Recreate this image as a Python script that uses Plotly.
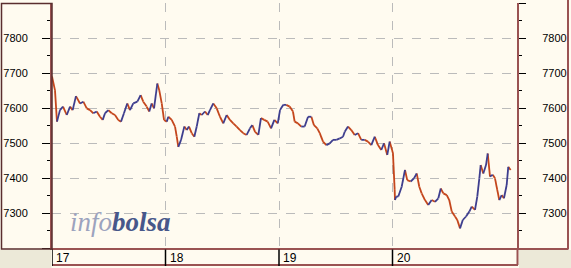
import plotly.graph_objects as go

# ---------------- data ----------------
t17 = [17.000, 17.026, 17.044, 17.070, 17.097, 17.130, 17.159, 17.182, 17.211, 17.247,
       17.276, 17.306, 17.335, 17.364, 17.394, 17.423, 17.447, 17.467, 17.496, 17.526,
       17.555, 17.584, 17.608, 17.634, 17.663, 17.687, 17.716, 17.752, 17.781, 17.804,
       17.834, 17.857, 17.878, 17.899, 17.928, 17.945, 17.967, 17.987, 18.011]
p17 = [7690, 7651, 7561, 7594, 7604, 7580, 7604, 7594, 7634, 7613,
       7618, 7599, 7594, 7585, 7590, 7575, 7566, 7585, 7594, 7585,
       7580, 7566, 7561, 7585, 7613, 7594, 7613, 7618, 7637, 7618,
       7604, 7590, 7613, 7599, 7670, 7651, 7613, 7566, 7561]

t18 = [18.025, 18.055, 18.084, 18.099, 18.113, 18.137, 18.166, 18.187, 18.207, 18.231,
       18.254, 18.275, 18.298, 18.319, 18.348, 18.372, 18.392, 18.421, 18.451, 18.480,
       18.509, 18.539, 18.568, 18.597, 18.627, 18.656, 18.685, 18.715, 18.744, 18.765,
       18.789, 18.818, 18.841, 18.870, 18.900, 18.930, 18.959, 18.989, 19.009, 19.038]
p18 = [7575, 7566, 7547, 7518, 7489, 7509, 7547, 7537, 7547, 7528,
       7518, 7547, 7585, 7580, 7590, 7580, 7594, 7613, 7599, 7575,
       7556, 7580, 7566, 7556, 7547, 7537, 7528, 7523, 7542, 7551,
       7532, 7523, 7571, 7566, 7561, 7542, 7566, 7556, 7594, 7609]

t19 = [19.064, 19.094, 19.123, 19.138, 19.167, 19.196, 19.226, 19.256, 19.285, 19.308,
       19.337, 19.359, 19.388, 19.417, 19.447, 19.476, 19.505, 19.535, 19.564, 19.579,
       19.608, 19.637, 19.667, 19.696, 19.725, 19.755, 19.784, 19.813, 19.844, 19.872,
       19.901, 19.925, 19.954, 19.975, 19.996, 20.004, 20.019]
p19 = [7609, 7604, 7590, 7561, 7556, 7547, 7547, 7575, 7575, 7551,
       7542, 7528, 7504, 7494, 7499, 7509, 7509, 7513, 7518, 7532,
       7547, 7537, 7523, 7528, 7509, 7509, 7504, 7494, 7518, 7494,
       7480, 7499, 7466, 7504, 7480, 7471, 7366]

t20 = [20.022, 20.033, 20.051, 20.081, 20.110, 20.130, 20.160, 20.189, 20.213, 20.236,
       20.257, 20.286, 20.315, 20.345, 20.374, 20.404, 20.425, 20.448, 20.478, 20.500,
       20.522, 20.551, 20.571, 20.595, 20.619, 20.648, 20.677, 20.698, 20.727, 20.747,
       20.765, 20.777, 20.800, 20.824, 20.839, 20.859, 20.883, 20.903, 20.923, 20.941,
       20.962, 20.982, 21.006, 21.020, 21.041]
p20 = [7337, 7347, 7347, 7375, 7423, 7394, 7390, 7399, 7413, 7375,
       7356, 7337, 7323, 7337, 7332, 7342, 7370, 7356, 7351, 7337,
       7304, 7290, 7280, 7256, 7280, 7290, 7304, 7318, 7309, 7347,
       7399, 7437, 7413, 7437, 7470, 7404, 7409, 7399, 7366, 7337,
       7351, 7342, 7380, 7432, 7423]

days = [17, 18, 19, 20]
day_labels = ["17", "18", "19", "20"]
y_ticks = [7200, 7300, 7400, 7500, 7600, 7700, 7800, 7900]
y_labels = ["", "7300", "7400", "7500", "7600", "7700", "7800", ""]
y_minor = [7250, 7350, 7450, 7550, 7650, 7750, 7850]

t = t17 + t18 + t19 + t20
p = p17 + p18 + p19 + p20

# ---------------- build up / down segments ----------------
up_x, up_y, dn_x, dn_y = [], [], [], []
for i in range(1, len(t)):
    if p[i] >= p[i - 1]:
        up_x += [t[i - 1], t[i], None]
        up_y += [p[i - 1], p[i], None]
    else:
        dn_x += [t[i - 1], t[i], None]
        dn_y += [p[i - 1], p[i], None]

BLUE = "#3E3E8E"
RED = "#C4461C"
CREAM = "#FFFBF0"
GRAY = "#ECE9D8"
BROWN = "#9A5252"
DARK = "#5A2E2E"

fig = go.Figure()
fig.add_trace(go.Scatter(x=dn_x, y=dn_y, mode="lines", line=dict(color=RED, width=1.8),
                         hoverinfo="skip"))
fig.add_trace(go.Scatter(x=up_x, y=up_y, mode="lines", line=dict(color=BLUE, width=1.8),
                         hoverinfo="skip"))
fig.add_trace(go.Scatter(x=[t[0]], y=[p[0]], yaxis="y2", mode="markers",
                         marker=dict(opacity=0), hoverinfo="skip"))

# plot area: pixels x 52..517, y 3..248
L, R, T, B = 52, 517, 3, 248
def px(X):
    return (X - L) / (R - L)
def py(Y):
    return (B - Y) / (B - T)

font = "Liberation Sans, Arial, sans-serif"

fig.update_layout(
    width=571, height=268,
    margin=dict(l=L, r=571 - R, t=T, b=268 - B, pad=0),
    paper_bgcolor=CREAM, plot_bgcolor=CREAM,
    showlegend=False,
    xaxis=dict(range=[17, 17 + (R - L) / 113.5], tickvals=days, showticklabels=False,
               ticks="", showgrid=True, gridcolor="#BBBBBB", griddash="dash", gridwidth=1,
               showline=True, linecolor=BROWN, linewidth=2, zeroline=False, fixedrange=True),
    yaxis=dict(range=[7200, 7900], tickvals=y_ticks, ticktext=y_labels,
               ticks="outside", ticklen=8, tickcolor="#000", tickwidth=1,
               showline=True, linecolor=BROWN, linewidth=2, zeroline=False,
               showgrid=True, gridcolor="#BBBBBB", griddash="dash", gridwidth=1,
               tickfont=dict(family=font, size=11, color="#000"), ticklabelstandoff=12,
               minor=dict(tickvals=y_minor, ticks="outside", ticklen=3, tickcolor="#000",
                          showgrid=False)),
    yaxis2=dict(range=[7200, 7900], overlaying="y", side="right", tickvals=y_ticks,
                ticktext=y_labels, ticks="outside", ticklen=7, tickcolor="#000", tickwidth=1,
                showline=True, linecolor=BROWN, linewidth=2, zeroline=False, showgrid=False,
                tickfont=dict(family=font, size=11, color="#000"), ticklabelstandoff=14,
                minor=dict(tickvals=y_minor, ticks="outside", ticklen=3, tickcolor="#000")),
)

shapes = []
# gray corners
shapes.append(dict(type="rect", xref="paper", yref="paper", x0=px(-2), x1=px(51.5),
                   y0=py(250), y1=py(270), fillcolor=GRAY, line=dict(width=0), layer="below"))
shapes.append(dict(type="rect", xref="paper", yref="paper", x0=px(519), x1=px(575),
                   y0=py(250), y1=py(270), fillcolor=GRAY, line=dict(width=0), layer="below"))
# left panel border
shapes.append(dict(type="rect", xref="paper", yref="paper", x0=px(1.5), x1=px(52),
                   y0=py(249), y1=py(3.5), line=dict(color=DARK, width=1.5), layer="above"))
# right panel border
shapes.append(dict(type="line", xref="paper", yref="paper", x0=px(568), x1=px(568),
                   y0=py(-2), y1=py(249.5), line=dict(color=BROWN, width=2), layer="above"))
shapes.append(dict(type="line", xref="paper", yref="paper", x0=px(517), x1=px(568),
                   y0=py(249), y1=py(249), line=dict(color=BROWN, width=2), layer="above"))
# x label strip border
shapes.append(dict(type="line", xref="paper", yref="paper", x0=px(52), x1=px(518),
                   y0=py(265), y1=py(265), line=dict(color=BROWN, width=2), layer="above"))
shapes.append(dict(type="line", xref="paper", yref="paper", x0=px(517.5), x1=px(517.5),
                   y0=py(249), y1=py(265), line=dict(color=BROWN, width=2), layer="above"))
# day separators in strip
for d in days:
    shapes.append(dict(type="line", xref="x", yref="paper", x0=d, x1=d,
                       y0=py(249.5), y1=py(266), line=dict(color="#000", width=1.5),
                       layer="above"))
fig.update_layout(shapes=shapes)

annotations = []
for d, lab in zip(days, day_labels):
    annotations.append(dict(x=d, y=py(257.5), xref="x", yref="paper", text=lab,
                            showarrow=False, xanchor="left", yanchor="middle", xshift=2,
                            font=dict(family=font, size=12, color="#000")))
annotations.append(dict(x=px(68), y=py(222), xref="paper", yref="paper",
                        text="<i><span style='color:#9CA3BE'>info</span>"
                             "<b><span style='color:#47578A'>bolsa</span></b></i>",
                        showarrow=False, xanchor="left", yanchor="middle",
                        font=dict(family="Liberation Serif, DejaVu Serif, serif", size=27)))
fig.update_layout(annotations=annotations)

fig.write_html("out.html")
